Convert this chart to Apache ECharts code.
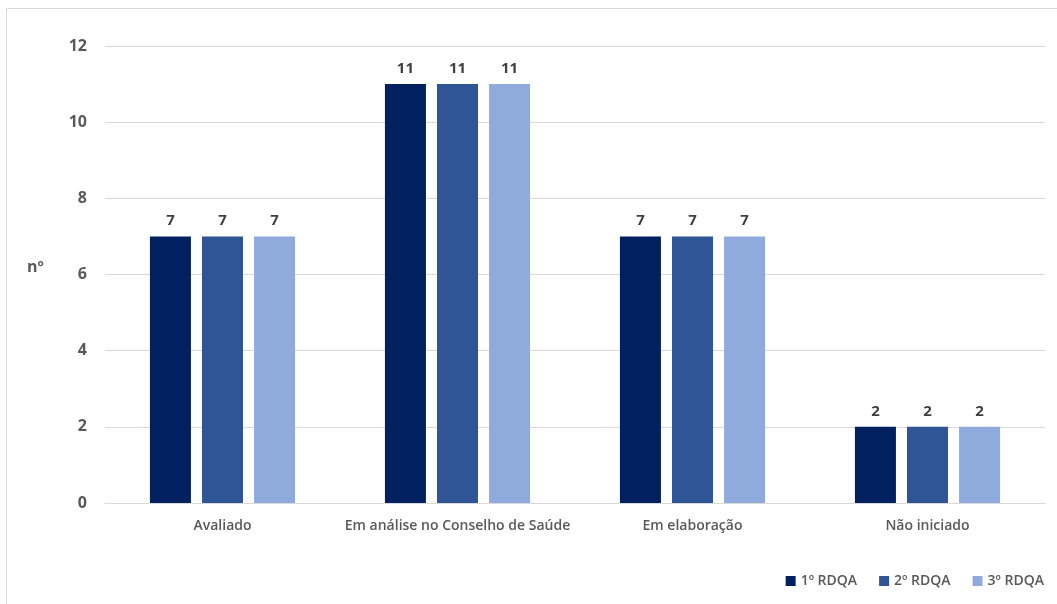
<!DOCTYPE html>
<html><head><meta charset="utf-8">
<script src="https://cdn.jsdelivr.net/npm/echarts@6/dist/echarts.min.js"></script>
<style>html,body{margin:0;padding:0;background:#fff}#c{width:1057px;height:604px}</style>
</head><body><div id="c"></div>
<script>
const categories = ['Avaliado', 'Em análise no Conselho de Saúde', 'Em elaboração', 'Não iniciado'];
const seriesNames = ['1º RDQA', '2º RDQA', '3º RDQA'];
const rdqa1 = [7, 11, 7, 2];
const rdqa2 = [7, 11, 7, 2];
const rdqa3 = [7, 11, 7, 2];
const colors = ['#002060', '#2F5597', '#8FAADC'];
const font = 'Open Sans';
const chart = echarts.init(document.getElementById('c'));
const mk = (name, data, i) => ({
  name, type: 'bar', data, barWidth: 41, barGap: '27%',
  itemStyle: { color: colors[i] },
  label: { show: true, position: 'top', distance: 8, color: '#404040', fontFamily: font, fontWeight: 'bold', fontSize: 15 }
});
chart.setOption({
  animation: false,
  graphic: [{ type: 'rect', shape: { x: 6.5, y: 8.5, width: 1100, height: 700 }, style: { fill: 'none', stroke: '#d9d9d9', lineWidth: 1 } },
            { type: 'text', left: 27, top: 259, style: { text: 'nº', fill: '#595959', font: 'bold 16px "Open Sans"' } }],
  grid: { left: 105, right: 12, top: 46, bottom: 101 },
  legend: { right: 8, bottom: 11, itemWidth: 10, itemHeight: 10, itemGap: 22, icon: 'rect',
    textStyle: { color: '#595959', fontFamily: font, fontSize: 14, fontWeight: 600 }, data: seriesNames },
  xAxis: { type: 'category', data: categories,
    axisLine: { lineStyle: { color: '#d9d9d9' } }, axisTick: { show: false },
    axisLabel: { color: '#595959', fontFamily: font, fontSize: 14, fontWeight: 600, margin: 16, interval: 0 } },
  yAxis: { type: 'value', min: 0, max: 12, interval: 2,
    axisLine: { show: false }, axisTick: { show: false },
    splitLine: { lineStyle: { color: '#d9d9d9' } },
    axisLabel: { color: '#595959', fontFamily: font, fontSize: 16, fontWeight: 'bold', margin: 18 } },
  series: [mk(seriesNames[0], rdqa1, 0), mk(seriesNames[1], rdqa2, 1), mk(seriesNames[2], rdqa3, 2)]
});
</script></body></html>
